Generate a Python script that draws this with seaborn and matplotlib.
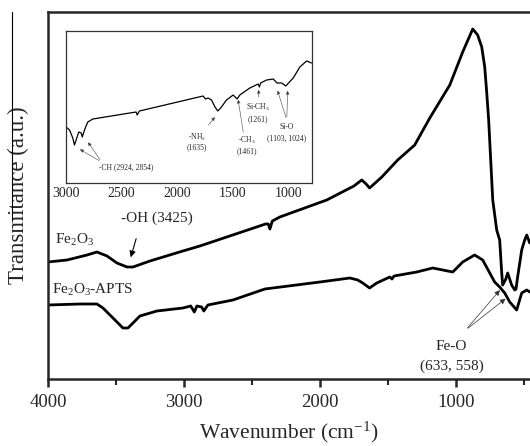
import numpy as np
import pandas as pd
import matplotlib
matplotlib.use("Agg")
import matplotlib.pyplot as plt
from matplotlib.lines import Line2D
import seaborn as sns

# main spectra (wavenumber, transmittance a.u.)
fe2o3_wn = [4000, 3860, 3713, 3640, 3566, 3493, 3419, 3375, 3250, 3008, 2883,
            2400, 2380, 2368, 2350, 2295, 1950, 1750, 1692, 1660, 1635, 1610,
            1545, 1428, 1303, 1192, 1045, 950, 876, 840, 810, 788, 773, 759,
            729, 700, 678, 663, 656, 633, 619, 590, 567, 558, 546, 516, 494,
            479, 457]
fe2o3_t = [117, 119, 124, 127, 123, 116, 112, 112, 118, 128, 133,
           155, 155, 150, 158, 162, 179, 193, 199, 195, 191, 194,
           202, 219, 234, 261, 294, 327, 350, 344, 332, 312, 286, 259,
           179, 149, 139, 106, 94, 100, 106, 94, 89, 90, 102, 129, 139,
           144, 136]

apts_wn = [4000, 3765, 3640, 3596, 3522, 3449, 3412, 3375, 3324, 3199, 3008,
           2950, 2924, 2905, 2870, 2854, 2824, 2640, 2405, 2000, 1780, 1722,
           1685, 1635, 1582, 1486, 1470, 1455, 1288, 1170, 1097, 1023, 950,
           862, 803, 751, 715, 678, 641, 604, 553, 516, 479, 457]
apts_t = [74, 75, 75, 71, 61, 51, 51, 56, 63, 68, 71,
          73, 67, 73, 72, 68, 74, 79, 90, 97, 101, 99,
          96, 91, 96, 102, 100, 103, 107, 111, 109, 107, 117,
          124, 119, 106, 97, 92, 86, 77, 69, 86, 89, 87]

# inset: Fe2O3-APTS 3000-800 cm-1
ins_wn = [3000, 2968, 2939, 2924, 2903, 2885, 2863, 2854, 2827, 2804, 2759,
          2370, 2360, 2340, 1767, 1746, 1722, 1692, 1660, 1635, 1602, 1557,
          1497, 1461, 1437, 1347, 1272, 1261, 1250, 1196, 1136, 1103, 1061,
          1024, 957, 897, 837, 792]
ins_t = [56, 53, 45, 38, 45, 51, 50, 46, 55, 61, 64,
         71, 68, 72, 87, 84, 85, 83, 76, 72, 76, 83,
         88, 84, 88, 95, 99, 96, 100, 103, 104, 100, 100,
         97, 105, 116, 122, 120]

sns.set_style("ticks")
plt.rcParams['font.family'] = ['Liberation Serif', 'DejaVu Serif']
plt.rcParams['mathtext.fontset'] = 'custom'
plt.rcParams['mathtext.rm'] = 'Liberation Serif'
plt.rcParams['mathtext.it'] = 'Liberation Serif:italic'

fig = plt.figure(figsize=(5.3, 4.46), dpi=100)
ax = fig.add_axes([48/530, 1-379/446, 1-48/530, 367/446])

main = pd.DataFrame({'wn': fe2o3_wn, 't': fe2o3_t})
apts = pd.DataFrame({'wn': apts_wn, 't': apts_t})
sns.lineplot(x='wn', y='t', data=main, ax=ax, color='black', lw=2.0,
             estimator=None, sort=False)
sns.lineplot(x='wn', y='t', data=apts, ax=ax, color='black', lw=2.0,
             estimator=None, sort=False)

ax.set_xlim(4000, 455)
ax.set_ylim(0, 367)
ax.set_xticks([4000, 3000, 2000, 1000])
ax.set_xticks([3500, 2500, 1500, 500], minor=True)
ax.set_yticks([])
ax.tick_params(axis='x', which='major', length=6, width=1.8, labelsize=13.5, pad=5)
ax.tick_params(axis='x', which='minor', length=4, width=1.5)
for s in ['left', 'bottom', 'top']:
    ax.spines[s].set_linewidth(1.8)
ax.spines['right'].set_visible(False)
ax.set_xlabel('Wavenumber (cm$^{-1}$)', fontsize=15.5, labelpad=6)
ax.set_ylabel('Transmitance (a.u.)', fontsize=16.5, labelpad=14)

# curve labels
ax.text(3949, 139, 'Fe$_2$O$_3$', fontsize=11, va='center', ha='left')
ax.text(3971, 89, 'Fe$_2$O$_3$-APTS', fontsize=11, va='center', ha='left')
ax.text(3200, 161, '-OH (3425)', fontsize=11, va='center', ha='center')
ax.annotate('', xy=(3397, 119), xytext=(3346, 143),
            arrowprops=dict(arrowstyle='-|>', color='black', lw=0.8,
                            mutation_scale=9))
ax.text(1031, 33, 'Fe-O', fontsize=11, va='center', ha='center')
ax.text(1031, 13, '(633, 558)', fontsize=11, va='center', ha='center')
for tip in [(663, 91), (619, 82)]:
    ax.annotate('', xy=tip, xytext=(928, 49),
                arrowprops=dict(arrowstyle='-|>', color='#333333', lw=0.5,
                                mutation_scale=8))

# inset
ins = fig.add_axes([66/530, 1-183/446, 246/530, 152/446])
insdf = pd.DataFrame({'wn': ins_wn, 't': ins_t})
sns.lineplot(x='wn', y='t', data=insdf, ax=ins, color='black', lw=0.9,
             estimator=None, sort=False)
ins.set_xlim(3000, 788)
ins.set_ylim(0, 152)
ins.set_xticks([3000, 2500, 2000, 1500, 1000])
ins.set_yticks([])
ins.set_xlabel('')
ins.set_ylabel('')
ins.tick_params(axis='x', length=0, labelsize=10, pad=3)
for s in ins.spines.values():
    s.set_linewidth(0.9)
    s.set_color('#333333')

afs = 5.5
ap = dict(arrowstyle='-|>', color='#444444', lw=0.4, mutation_scale=5)
ins.text(2455, 16, '-CH (2924, 2854)', fontsize=afs, ha='center', va='center')
ins.annotate('', xy=(2896, 35), xytext=(2680, 21), arrowprops=ap)
ins.annotate('', xy=(2815, 43), xytext=(2680, 21), arrowprops=ap)
ins.text(1825, 46, '-NH$_2$', fontsize=afs, ha='center', va='center')
ins.text(1825, 36, '(1635)', fontsize=afs, ha='center', va='center')
ins.annotate('', xy=(1645, 68), xytext=(1735, 56), arrowprops=ap)
ins.text(1374, 43, '-CH$_3$', fontsize=afs, ha='center', va='center')
ins.text(1374, 32, '(1461)', fontsize=afs, ha='center', va='center')
ins.annotate('', xy=(1456, 86), xytext=(1402, 48), arrowprops=ap)
ins.text(1276, 76, 'Si-CH$_3$', fontsize=afs, ha='center', va='center')
ins.text(1276, 64, '(1261)', fontsize=afs, ha='center', va='center')
ins.annotate('', xy=(1267, 96), xytext=(1267, 83), arrowprops=ap)
ins.text(1015, 56, 'Si-O', fontsize=afs, ha='center', va='center')
ins.text(1015, 45, '(1103, 1024)', fontsize=afs, ha='center', va='center')
ins.annotate('', xy=(1105, 95), xytext=(1015, 63), arrowprops=ap)
ins.annotate('', xy=(1006, 95), xytext=(1015, 63), arrowprops=ap)

# stray border line at the left of the scan
fig.add_artist(Line2D([12/530, 12/530], [1-12/446, 1-220/446],
                      color='black', lw=0.8))

fig.savefig('out.png', dpi=100)
